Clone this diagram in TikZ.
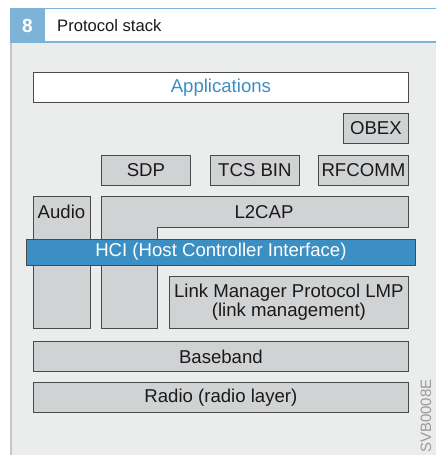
\documentclass[tikz,border=0pt]{standalone}
\usepackage{fontspec}
\setmainfont{Liberation Sans}
\definecolor{bodybg}{HTML}{EBECEC}
\definecolor{boxfill}{HTML}{D1D2D4}
\definecolor{boxline}{HTML}{4A4A4A}
\definecolor{headblue}{HTML}{7DB3D6}
\definecolor{hciblue}{HTML}{3C8FC3}
\definecolor{textc}{HTML}{1A1A1A}
\definecolor{codegray}{HTML}{9A9A9A}
\definecolor{edgegray}{HTML}{C4C6C7}
\begin{document}
\begin{tikzpicture}[x=1pt,y=-1pt,
  box/.style={draw=boxline, fill=boxfill, line width=0.8pt, inner sep=0pt,
    font=\fontsize{18.6}{20}\selectfont, text=textc, anchor=north west, align=center},
  lbl/.style={inner sep=0pt, font=\fontsize{18.6}{20}\selectfont, text=textc}]
\useasboundingbox (0,0) rectangle (436,455);
\fill[white] (0,0) rectangle (436,455);
% body
\fill[bodybg] (10,42) rectangle (436,455);
\draw[edgegray, line width=2pt] (11,42) -- (11,455);
% header
\fill[white] (10,8) rectangle (436,42);
\draw[headblue, line width=1.2pt] (10,8.6) -- (436,8.6);
\draw[headblue, line width=2pt] (10,41.5) -- (436,41.5);
\fill[headblue] (10,8) rectangle (45,42);
\node[inner sep=0pt, text=white, font=\fontsize{19}{20}\selectfont\bfseries] (num) at (27.5,26) {8};
\node[inner sep=0pt, anchor=west, text=textc, font=\fontsize{16.6}{18}\selectfont] (title) at (57,26) {Protocol stack};
% applications
\node[box, fill=white, text=hciblue, minimum width=375pt, minimum height=30pt] (app) at (33,72) {Applications};
\node[box, minimum width=65pt, minimum height=30pt] (obex) at (343,113) {OBEX};
\node[box, minimum width=89pt, minimum height=30pt] (sdp) at (101,155) {SDP};
\node[box, minimum width=89pt, minimum height=30pt] (tcs) at (210,155) {TCS BIN};
\node[box, minimum width=90pt, minimum height=30pt] (rfc) at (318,155) {RFCOMM};
% audio
\node[box, minimum width=57pt, minimum height=132pt] (audio) at (33,196) {};
\node[lbl] (audiot) at (61.5,212) {Audio};
% L2CAP L-shape
\draw[draw=boxline, fill=boxfill, line width=0.8pt] (101,196) -- (408,196) -- (408,227) -- (157,227) -- (157,328) -- (101,328) -- cycle;
\node[lbl] (l2cap) at (264,212) {L2CAP};
% LMP
\node[box, minimum width=239pt, minimum height=52pt] (lmp) at (169,276) {Link Manager Protocol LMP\\[-1.5pt](link management)};
% HCI
\node[box, fill=hciblue, text=white, minimum width=389pt, minimum height=26pt] (hci) at (26,238.5) {HCI (Host Controller Interface)};
% baseband, radio
\node[box, minimum width=375pt, minimum height=30pt] (bb) at (33,341) {Baseband};
\node[box, minimum width=375pt, minimum height=30pt] (radio) at (33,382) {Radio (radio layer)};
% code
\node[inner sep=0pt, rotate=90, text=codegray, font=\fontsize{15}{16}\selectfont] (code) at (426,416) {SVB0008E};
\end{tikzpicture}
\end{document}
